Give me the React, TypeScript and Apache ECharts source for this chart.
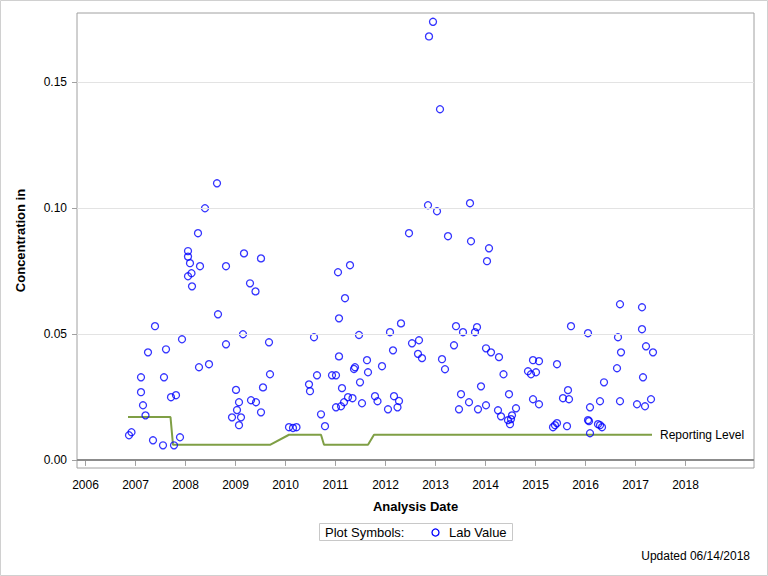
import React, { useEffect, useRef } from "react";
import * as echarts from "echarts";

// Lab values: decimal year of analysis, concentration
const labDates: number[] = [
  2006.87, 2006.92, 2007.11, 2007.11, 2007.15, 2007.2, 2007.25, 2007.35, 2007.39, 2007.55,
  2007.57, 2007.61, 2007.71, 2007.77, 2007.81, 2007.89, 2007.93, 2008.05, 2008.05, 2008.09,
  2008.05, 2008.12, 2008.13, 2008.25, 2008.29, 2008.27, 2008.39, 2008.47, 2008.63, 2008.65,
  2008.81, 2008.81, 2008.93, 2009.01, 2009.03, 2009.07, 2009.07, 2009.11, 2009.15, 2009.17,
  2009.29, 2009.31, 2009.4, 2009.41, 2009.51, 2009.51, 2009.55, 2009.67, 2009.69,
  2010.07, 2010.15, 2010.22, 2010.47, 2010.49, 2010.57, 2010.63, 2010.71, 2010.79, 2010.93,
  2011.01, 2011.01, 2011.05, 2011.07, 2011.07, 2011.11, 2011.13, 2011.17, 2011.19, 2011.25,
  2011.29, 2011.34, 2011.37, 2011.39, 2011.47, 2011.49, 2011.53, 2011.63, 2011.65, 2011.79,
  2011.84, 2011.93, 2012.05, 2012.09, 2012.15, 2012.17, 2012.24, 2012.27, 2012.31, 2012.47,
  2012.53, 2012.65, 2012.67, 2012.73, 2012.85, 2012.87, 2012.95, 2013.03, 2013.09, 2013.13,
  2013.19, 2013.25, 2013.37, 2013.41, 2013.47, 2013.51, 2013.55, 2013.67, 2013.69, 2013.71,
  2013.79, 2013.83, 2013.85, 2013.91, 2014.01, 2014.01, 2014.03, 2014.07, 2014.11, 2014.25,
  2014.27, 2014.31, 2014.36,
  2014.45, 2014.47, 2014.49, 2014.51, 2014.53, 2014.61, 2014.85, 2014.91, 2014.95, 2014.95,
  2015.01, 2015.07, 2015.07, 2015.35, 2015.39, 2015.43, 2015.43, 2015.55, 2015.63, 2015.65,
  2015.67, 2015.71, 2016.05, 2016.05, 2016.07, 2016.09, 2016.09, 2016.25, 2016.29, 2016.29,
  2016.33, 2016.37, 2016.63, 2016.65, 2016.69, 2016.69, 2016.71, 2017.03, 2017.13, 2017.13,
  2017.15, 2017.19, 2017.21, 2017.31, 2017.35,
];
const labValues: number[] = [
  0.0098, 0.011, 0.0328, 0.0269, 0.0217, 0.0177, 0.0427, 0.0078, 0.0531, 0.0058,
  0.0328, 0.0439, 0.0249, 0.0058, 0.0257, 0.009, 0.0479, 0.0829, 0.0807, 0.0781,
  0.0729, 0.0741, 0.0689, 0.09, 0.0769, 0.0368, 0.0999, 0.038, 0.1098, 0.0578,
  0.0769, 0.0459, 0.0169, 0.0278, 0.0198, 0.0229, 0.0138, 0.0169, 0.0499, 0.082,
  0.0701, 0.0237, 0.0669, 0.0229, 0.0189, 0.08, 0.0288, 0.0467, 0.034,
  0.013, 0.0127, 0.013, 0.03, 0.0273, 0.0487, 0.0336, 0.0181, 0.0134, 0.0336,
  0.0336, 0.0209, 0.0745, 0.0562, 0.0411, 0.0213, 0.0285, 0.0229, 0.0642, 0.0249,
  0.0773, 0.0245, 0.0361, 0.0368, 0.0496, 0.0308, 0.0225, 0.0396, 0.0348, 0.0253,
  0.0233, 0.0372, 0.0201, 0.0507, 0.0435, 0.0253, 0.0209, 0.0234, 0.0542, 0.09,
  0.0463, 0.0421, 0.0475, 0.0404, 0.1011, 0.1681, 0.1739, 0.0987, 0.1392, 0.04,
  0.036, 0.0888, 0.0455, 0.0531, 0.0201, 0.0261, 0.0507, 0.0229, 0.1019, 0.0868,
  0.0507, 0.0527, 0.0201, 0.0292, 0.0217, 0.0443, 0.0789, 0.084, 0.0427, 0.0197,
  0.0408, 0.0173, 0.034,
  0.0158, 0.0261, 0.0142, 0.0162, 0.0177, 0.0205, 0.0352, 0.034, 0.0396, 0.0241,
  0.0348, 0.0392, 0.0221, 0.013, 0.0138, 0.0146, 0.038, 0.0245, 0.0134, 0.0277,
  0.0241, 0.0531, 0.0503, 0.0158, 0.0154, 0.0209, 0.0106, 0.0142, 0.0138, 0.0233,
  0.013, 0.0308, 0.0364, 0.0487, 0.0618, 0.0233, 0.0427, 0.0221, 0.0606, 0.0519,
  0.0328, 0.0213, 0.0451, 0.0241, 0.0427,
];

// Reporting level line
const reportDates: number[] = [2006.85, 2007.7, 2007.75, 2009.69, 2010.07, 2010.71, 2010.77, 2011.65, 2011.77, 2017.33];
const reportValues: number[] = [0.017, 0.017, 0.006, 0.006, 0.01, 0.01, 0.006, 0.006, 0.01, 0.01];

// Axes
const yearTicks: number[] = [2006, 2007, 2008, 2009, 2010, 2011, 2012, 2013, 2014, 2015, 2016, 2017, 2018];
const yTicks: number[] = [0, 0.05, 0.1, 0.15];
const gridLineValues: number[] = [0.05, 0.1, 0.15];
const xRange: number[] = [2005.83, 2019.37];
const yRange: number[] = [-0.0032, 0.1774];

const FONT = "Arial, 'Liberation Sans', sans-serif";

export default function App() {
  const ref = useRef<HTMLDivElement>(null);

  useEffect(() => {
    if (!ref.current) return;
    const chart = echarts.init(ref.current, undefined, { renderer: "svg" });

    const option: any = {
      animation: false,
      backgroundColor: "#ffffff",
      textStyle: { fontFamily: FONT, color: "#000" },
      grid: {
        left: 77,
        right: 14,
        top: 13,
        bottom: 108,
        show: true,
        borderColor: "#a0a0a0",
        borderWidth: 1,
        backgroundColor: "#ffffff",
        containLabel: false,
        outerBoundsMode: "none",
      },
      xAxis: {
        type: "value",
        min: xRange[0],
        max: xRange[1],
        name: "Analysis Date",
        nameLocation: "middle",
        nameGap: 32,
        nameTextStyle: { fontFamily: FONT, fontWeight: "bold", fontSize: 13, color: "#000" },
        axisLine: { show: false },
        axisTick: { show: true, customValues: yearTicks, length: 6, lineStyle: { color: "#a0a0a0" } },
        axisLabel: {
          customValues: yearTicks,
          formatter: (v: number) => String(Math.round(v)),
          fontFamily: FONT,
          fontSize: 12,
          color: "#000",
          margin: 11,
        },
        splitLine: { show: false },
      },
      yAxis: {
        type: "value",
        min: yRange[0],
        max: yRange[1],
        name: "Concentration in",
        nameLocation: "middle",
        nameRotate: 90,
        nameGap: 50,
        nameTextStyle: { fontFamily: FONT, fontWeight: "bold", fontSize: 13, color: "#000" },
        axisLine: { show: false },
        axisTick: { show: true, customValues: yTicks, length: 5, lineStyle: { color: "#a0a0a0" } },
        axisLabel: {
          customValues: yTicks,
          formatter: (v: number) => v.toFixed(2),
          fontFamily: FONT,
          fontSize: 12,
          color: "#000",
          margin: 10,
        },
        splitLine: { show: false },
      },
      graphic: [
        {
          type: "rect",
          shape: { x: 0.5, y: 0.5, width: 767, height: 575 },
          style: { fill: "none", stroke: "#d0d0d0", lineWidth: 1 },
          silent: true,
          z: -10,
        },
        {
          type: "rect",
          shape: { x: 319.5, y: 523.5, width: 193, height: 17 },
          style: { fill: "none", stroke: "#c8c8c8", lineWidth: 1 },
          silent: true,
        },
        {
          type: "text",
          x: 325,
          y: 532,
          style: {
            text: "Plot Symbols:",
            font: `13px ${FONT}`,
            fill: "#000",
            verticalAlign: "middle",
          },
          silent: true,
        },
        {
          type: "circle",
          shape: { cx: 435.5, cy: 532.5, r: 3.5 },
          style: { fill: "none", stroke: "#0000ff", lineWidth: 1.3 },
          silent: true,
        },
        {
          type: "text",
          x: 449,
          y: 532,
          style: {
            text: "Lab Value",
            font: `13px ${FONT}`,
            fill: "#000",
            verticalAlign: "middle",
          },
          silent: true,
        },
        {
          type: "text",
          x: 750,
          y: 556,
          style: {
            text: "Updated 06/14/2018",
            font: `12px ${FONT}`,
            fill: "#000",
            align: "right",
            verticalAlign: "middle",
          },
          silent: true,
        },
      ],
      series: [
        {
          name: "gridlines",
          type: "line",
          data: [],
          silent: true,
          z: 1,
          markLine: {
            silent: true,
            symbol: ["none", "none"],
            label: { show: false },
            data: [
              ...gridLineValues.map((v) => ({ yAxis: v, lineStyle: { color: "#e3e3e3", width: 1, type: "solid" } })),
              { yAxis: 0, lineStyle: { color: "#8c8c8c", width: 2, type: "solid" } },
            ],
          },
        },
        {
          name: "Reporting Level",
          type: "line",
          data: reportDates.map((d, i) => [d, reportValues[i]]),
          showSymbol: false,
          symbol: "none",
          lineStyle: { color: "#7f9f45", width: 2 },
          z: 2,
          endLabel: {
            show: true,
            formatter: "Reporting Level",
            fontFamily: FONT,
            fontSize: 12,
            color: "#000",
            distance: 8,
          },
        },
        {
          name: "Lab Value",
          type: "scatter",
          data: labDates.map((d, i) => [d, labValues[i]]),
          symbol: "circle",
          symbolSize: 7,
          itemStyle: { color: "rgba(255,255,255,0)", borderColor: "#0000ff", borderWidth: 1.3 },
          z: 3,
        },
      ],
    };

    chart.setOption(option);
    return () => chart.dispose();
  }, []);

  return (
    <div
      ref={ref}
      style={{ position: "fixed", left: 0, top: 0, width: 768, height: 576 }}
    />
  );
}
